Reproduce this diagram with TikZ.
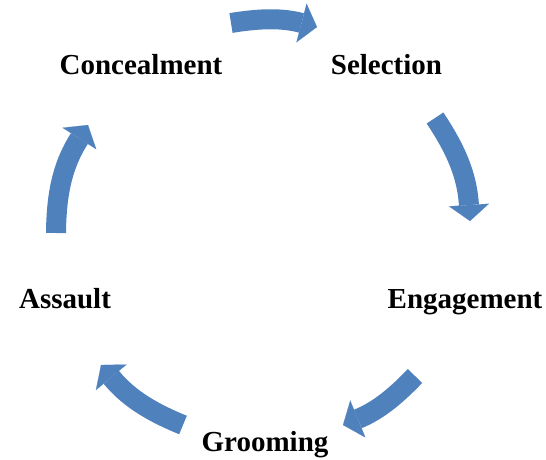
\documentclass[tikz,border=0pt]{standalone}
\usepackage{fontspec}
\setmainfont{Liberation Serif}
\usetikzlibrary{arrows.meta}
\definecolor{cycblue}{HTML}{4F81BD}

\begin{document}
\begin{tikzpicture}[
      x=1pt, y=-1pt,
      font=\fontsize{29}{34}\selectfont\bfseries,
      lbl/.style={anchor=base, inner sep=0pt},
      carr/.style={cycblue, line width=20pt,
        -{Triangle[width=40pt 0 0, length=16pt 0 0, line width=0.1pt]}},
    ]
    \useasboundingbox (0,0) rectangle (546,459);
    \node[lbl] (sel) at (386.5,74) {Selection};
    \node[lbl] (eng) at (465,308.5) {Engagement};
    \node[lbl] (groom) at (265,451) {Grooming};
    \node[lbl] (asl) at (65,308) {Assault};
    \node[lbl] (conc) at (141,74) {Concealment};
    \coordinate (t1) at (231,23);  \coordinate (h1) at (317,27);
    \coordinate (t2) at (435,118); \coordinate (h2) at (470,221);
    \coordinate (t3) at (415,376); \coordinate (h3) at (343,425);
    \coordinate (t4) at (183,425); \coordinate (h4) at (101,365);
    \coordinate (t5) at (56,233);  \coordinate (h5) at (88,125);
    \draw[carr] (t1) to[bend left=12] (h1);
    \draw[carr] (t2) to[bend left=15] (h2);
    \draw[carr] (t3) to[bend left=12] (h3);
    \draw[carr] (t4) to[bend left=14] (h4);
    \draw[carr] (t5) to[bend left=16] (h5);
  \end{tikzpicture}
\end{document}
